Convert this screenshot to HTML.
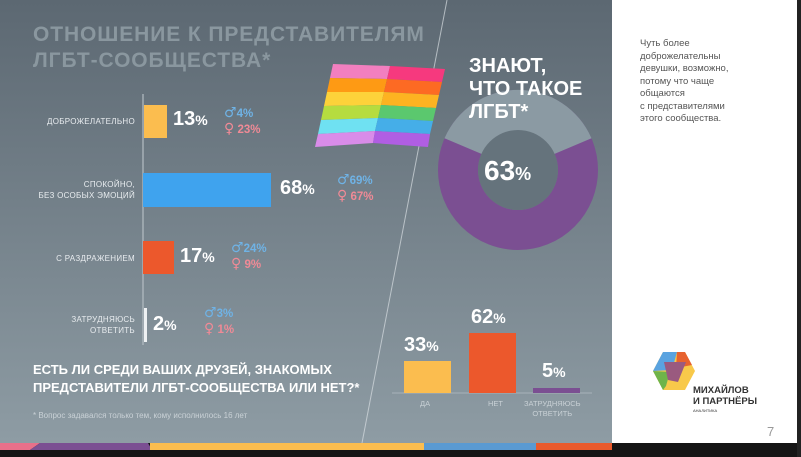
<!DOCTYPE html>
<html><head><meta charset="utf-8"><style>
body{margin:0;width:801px;height:457px;overflow:hidden;background:#111;font-family:"Liberation Sans","DejaVu Sans",sans-serif}
.bg{position:absolute;left:0;top:0;width:612px;height:443px;background:linear-gradient(#5c6872,#8e9ca4)}
.panel{position:absolute;left:612px;top:0;width:185px;height:450px;background:#fff}
.t{position:absolute;white-space:nowrap}
.lbl{position:absolute;right:666px;font-size:8px;color:#e8ecef;text-align:right;line-height:11px;letter-spacing:.3px}
.big{position:absolute;font-weight:bold;color:#fff;font-size:20px}
.g{position:absolute;font-size:11.5px;font-weight:bold;line-height:15px}
.g b{font-family:"DejaVu Sans",sans-serif;font-size:14px;font-weight:normal}
.m{color:#6fb3e6}.f{color:#f08a96}
</style></head><body>
<div class="bg"></div>
<div class="panel"></div>
<div style="position:absolute;left:0;top:443px;width:801px;height:14px;background:#151515"></div>
<div style="position:absolute;left:797px;top:0;width:4px;height:457px;background:#222"></div>
<svg style="position:absolute;left:0;top:0" width="801" height="457">
 <polygon points="0,443 40,443 30,450 0,450" fill="#e8708a"/>
 <polygon points="40,443 148,443 152,450 30,450" fill="#7b4f92"/>
 <rect x="150" y="443" width="274" height="7" fill="#fbbd4f"/>
 <rect x="424" y="443" width="112" height="7" fill="#5a9ad2"/>
 <rect x="536" y="443" width="76" height="7" fill="#ea5a2c"/>
 <line x1="447" y1="0" x2="362" y2="443" stroke="#d8dee2" stroke-width="1" opacity=".7"/>
 <line x1="143" y1="94" x2="143" y2="345" stroke="#b4bdc3" stroke-width="1.2"/>
 <rect x="144" y="105" width="23" height="33" fill="#fbbd4f"/>
 <rect x="143" y="173" width="128" height="34" fill="#3fa3ee"/>
 <rect x="143" y="241" width="31" height="33" fill="#ec582c"/>
 <rect x="144" y="308" width="3" height="34" fill="#eef1f3"/>
 <line x1="392" y1="393" x2="592" y2="393" stroke="#a7b2b9" stroke-width="1"/>
 <rect x="404" y="361" width="47" height="32" fill="#fbbd4f"/>
 <rect x="469" y="333" width="47" height="60" fill="#ec582c"/>
 <rect x="533" y="388" width="47" height="5" fill="#7b4f92"/>
 <circle cx="518" cy="170" r="60" fill="none" stroke="#7b4f92" stroke-width="40"/>
 <path d="M444.5,138.3 A80,80 0 0 1 591.5,138.3 L554,154.1 A40,40 0 0 0 482,154.1 Z" fill="#8b9aa3"/>
 <circle cx="518" cy="170" r="40" fill="#65737c"/>
 <g>
  <polygon points="333,64 390,66 387,79 330,78" fill="#f27fbf"/>
  <polygon points="330,78 387,79 384,92 327,92" fill="#fe9a14"/>
  <polygon points="327,92 384,92 381,105 324,106" fill="#fdd23a"/>
  <polygon points="324,106 381,105 378,118 321,120" fill="#b6dc3f"/>
  <polygon points="321,120 378,118 375,131 318,134" fill="#6fe1f2"/>
  <polygon points="318,134 375,131 373,143 315,147" fill="#d98ce9"/>
  <polygon points="390,66 445,69 442,82 387,79" fill="#f6397e"/>
  <polygon points="387,79 442,82 439,95 384,92" fill="#fd6a23"/>
  <polygon points="384,92 439,95 436,108 381,105" fill="#fdb321"/>
  <polygon points="381,105 436,108 433,121 378,118" fill="#5bc86e"/>
  <polygon points="378,118 433,121 430,134 375,131" fill="#45aee8"/>
  <polygon points="375,131 430,134 428,147 373,143" fill="#b05ee3"/>
 </g>
</svg>
<div class="t" style="left:33px;top:22px;font-size:21px;font-weight:bold;color:#8a979f;line-height:26px;letter-spacing:.9px">ОТНОШЕНИЕ К ПРЕДСТАВИТЕЛЯМ<br>ЛГБТ-СООБЩЕСТВА*</div>
<div class="lbl" style="top:116px">ДОБРОЖЕЛАТЕЛЬНО</div>
<div class="lbl" style="top:179px">СПОКОЙНО,<br>БЕЗ ОСОБЫХ ЭМОЦИЙ</div>
<div class="lbl" style="top:253px">С РАЗДРАЖЕНИЕМ</div>
<div class="lbl" style="top:314px">ЗАТРУДНЯЮСЬ<br>ОТВЕТИТЬ</div>
<div class="big" style="left:173px;top:108px">13<span style="font-size:14px">%</span></div>
<div class="big" style="left:280px;top:177px">68<span style="font-size:14px">%</span></div>
<div class="big" style="left:180px;top:245px">17<span style="font-size:14px">%</span></div>
<div class="big" style="left:153px;top:313px">2<span style="font-size:14px">%</span></div>
<div class="g" style="left:224px;top:106px"><span class="m"><b>♂</b>4%</span><br><span class="f"><b>♀</b> 23%</span></div>
<div class="g" style="left:337px;top:173px"><span class="m"><b>♂</b>69%</span><br><span class="f"><b>♀</b> 67%</span></div>
<div class="g" style="left:231px;top:241px"><span class="m"><b>♂</b>24%</span><br><span class="f"><b>♀</b> 9%</span></div>
<div class="g" style="left:204px;top:306px"><span class="m"><b>♂</b>3%</span><br><span class="f"><b>♀</b> 1%</span></div>
<div class="t" style="left:33px;top:361px;font-size:13px;font-weight:bold;color:#fff;line-height:18px">ЕСТЬ ЛИ СРЕДИ ВАШИХ ДРУЗЕЙ, ЗНАКОМЫХ<br>ПРЕДСТАВИТЕЛИ ЛГБТ-СООБЩЕСТВА ИЛИ НЕТ?*</div>
<div class="t" style="left:33px;top:411px;font-size:8px;color:#c9d1d6">* Вопрос задавался только тем, кому исполнилось 16 лет</div>
<div class="t" style="left:469px;top:55px;font-size:20px;font-weight:bold;color:#fff;line-height:23px">ЗНАЮТ,<br>ЧТО ТАКОЕ<br>ЛГБТ*</div>
<div class="big" style="left:484px;top:155px;font-size:28px">63<span style="font-size:18px">%</span></div>
<div class="big" style="left:404px;top:334px">33<span style="font-size:14px">%</span></div>
<div class="big" style="left:471px;top:306px">62<span style="font-size:14px">%</span></div>
<div class="big" style="left:542px;top:360px">5<span style="font-size:14px">%</span></div>
<div class="t" style="left:420px;top:399px;font-size:7.5px;color:#c8d0d5">ДА</div>
<div class="t" style="left:488px;top:399px;font-size:7.5px;color:#c8d0d5">НЕТ</div>
<div class="t" style="left:524px;top:399px;font-size:7.5px;color:#c8d0d5;text-align:center;line-height:10px">ЗАТРУДНЯЮСЬ<br>ОТВЕТИТЬ</div>
<div class="t" style="left:640px;top:38px;font-size:9.5px;color:#555;line-height:12.5px">Чуть более<br>доброжелательны<br>девушки, возможно,<br>потому что чаще<br>общаются<br>с представителями<br>этого сообщества.</div>
<svg style="position:absolute;left:652px;top:350px" width="44" height="42">
 <polygon points="11,2 33,2 43,21 33,40 11,40 1,21" fill="#f8c94a"/>
 <polygon points="11,2 25,2 20,20 1,21" fill="#5aa3e0"/>
 <polygon points="25,2 33,2 40,15 24,18" fill="#e7622f"/>
 <polygon points="1,21 18,22 14,36 11,40" fill="#6fb44a"/>
 <polygon points="12,12 34,12 26,32 16,30" fill="#9a5a7f"/>
</svg>
<div class="t" style="left:693px;top:385px;font-size:9.5px;font-weight:bold;color:#333;line-height:11px">МИХАЙЛОВ<br>И ПАРТНЁРЫ</div>
<div class="t" style="left:693px;top:408px;font-size:4px;color:#333">АНАЛИТИКА</div>
<div class="t" style="left:767px;top:424px;font-size:13px;color:#999">7</div>
</body></html>
